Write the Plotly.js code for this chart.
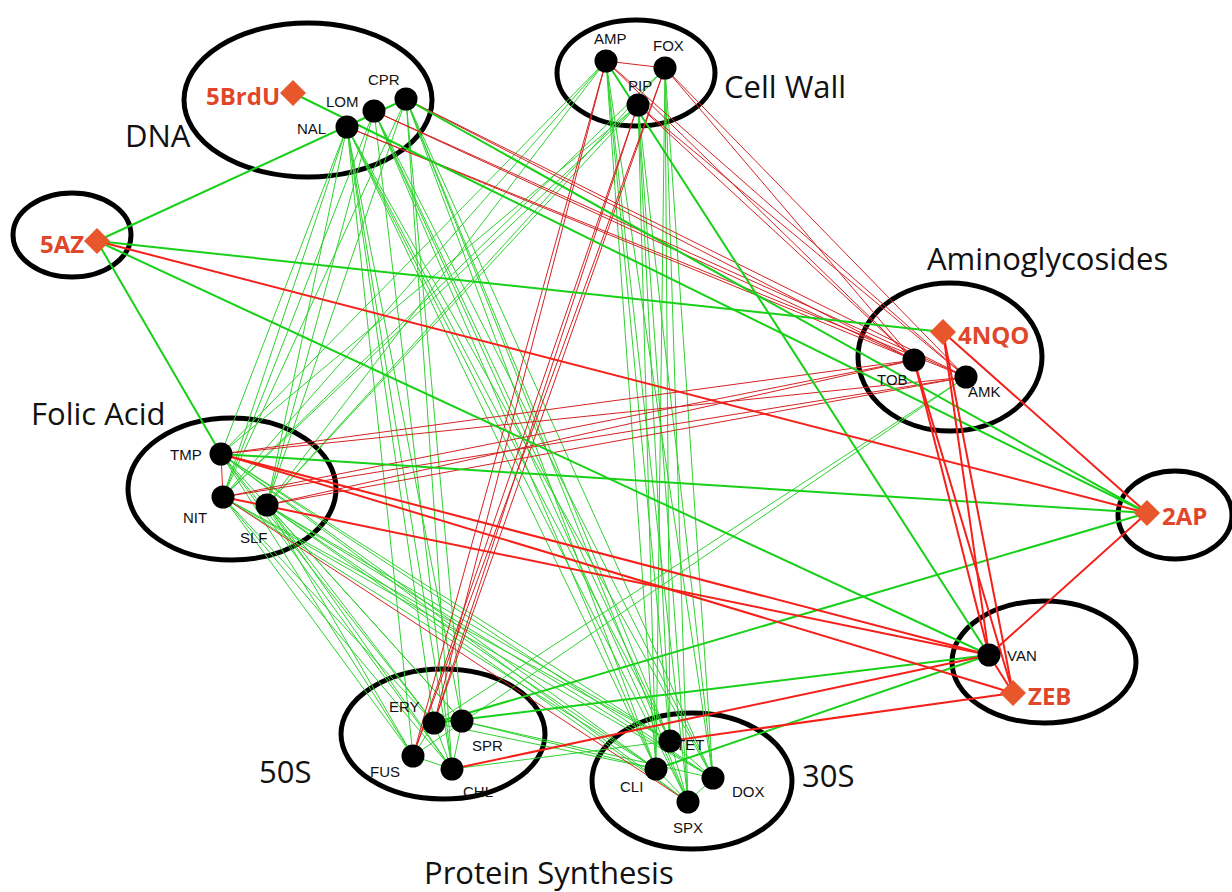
<!DOCTYPE html>
<html>
<head>
<meta charset="utf-8">
<script src="https://cdn.plot.ly/plotly-3.0.1.min.js"></script>
<style>html,body{margin:0;padding:0;background:#fff;}#chart{width:1232px;height:892px;}</style>
</head>
<body>
<div id="chart"></div>
<script>
// ---- Data ----
var drugNames = ["AMP","FOX","PIP","CPR","LOM","NAL","TOB","AMK","TMP","NIT","SLF","ERY","SPR","FUS","CHL","TET","CLI","DOX","SPX","VAN"];
var drugX     = [606, 665, 638, 406, 374, 347, 914, 966, 221, 223, 267, 434, 462, 413, 452, 670, 656, 713, 688, 989];
var drugY     = [ 61,  68, 105,  99, 111, 127, 360, 377, 454, 497, 505, 723, 721, 756, 769, 741, 769, 778, 802, 655];

var stressNames = ["5BrdU","5AZ","4NQO","2AP","ZEB"];
var stressX     = [293,  97, 943, 1147, 1013];
var stressY     = [ 93, 241, 332,  513,  693];

var groupNames = ["DNA","Cell Wall","Aminoglycosides","Folic Acid","50S","30S","Protein Synthesis"];

// group ellipses: center x, center y, radius x, radius y
var ellCX = [308, 636,  72, 950, 232, 1175, 1044, 443, 692];
var ellCY = [100,  73, 235, 357, 489,  515,  662, 734, 781];
var ellRX = [124,  79,  59,  92, 104,   57,   92, 102, 100];
var ellRY = [ 77,  53,  42,  74,  71,   44,   61,  65,  68];

// interactions
var thinGreen = [
 ["NAL","ERY"],["NAL","FUS"],["NAL","CHL"],["NAL","SPR"],["NAL","TET"],["NAL","CLI"],["NAL","SPX"],["NAL","DOX"],
 ["LOM","TET"],["LOM","CLI"],["LOM","SPX"],["LOM","DOX"],["LOM","CHL"],
 ["CPR","TET"],["CPR","CLI"],["CPR","SPX"],["CPR","DOX"],["CPR","CHL"],["CPR","SPR"],
 ["NAL","NIT"],["NAL","SLF"],["NAL","TMP"],["LOM","NIT"],["LOM","SLF"],["CPR","NIT"],["CPR","SLF"],
 ["AMP","TMP"],["AMP","NIT"],["AMP","SLF"],["PIP","TMP"],["PIP","NIT"],["PIP","SLF"],["FOX","NIT"],["FOX","SLF"],
 ["AMP","TET"],["AMP","CLI"],["AMP","SPX"],["AMP","DOX"],["FOX","TET"],["FOX","CLI"],["FOX","SPX"],["FOX","DOX"],
 ["PIP","TET"],["PIP","CLI"],["PIP","SPX"],["PIP","DOX"],
 ["TMP","ERY"],["TMP","FUS"],["TMP","CHL"],["TMP","SPR"],["NIT","ERY"],["NIT","FUS"],["NIT","CHL"],
 ["SLF","ERY"],["SLF","FUS"],["SLF","CHL"],["SLF","SPR"],
 ["TMP","TET"],["TMP","CLI"],["TMP","SPX"],["TMP","DOX"],["NIT","TET"],["NIT","CLI"],["NIT","DOX"],
 ["SLF","TET"],["SLF","CLI"],["SLF","SPX"],["SLF","DOX"],
 ["AMK","ERY"],["AMK","FUS"],
 ["SPR","CLI"],["CHL","TET"],["ERY","CLI"],["SPR","DOX"],
 ["ERY","FUS"],["ERY","CHL"],["SPR","CHL"],["FUS","CHL"],
 ["TET","SPX"],["CLI","SPX"],["TET","DOX"],["DOX","SPX"]
];
var thinRed = [
 ["AMP","TOB"],["AMP","AMK"],["FOX","TOB"],["FOX","AMK"],["PIP","TOB"],["PIP","AMK"],
 ["NAL","TOB"],["NAL","AMK"],["LOM","TOB"],["LOM","AMK"],["CPR","TOB"],["CPR","AMK"],
 ["TMP","TOB"],["TMP","AMK"],["NIT","TOB"],["NIT","AMK"],["SLF","TOB"],["SLF","AMK"],
 ["AMP","ERY"],["AMP","FUS"],["FOX","ERY"],["FOX","FUS"],["PIP","ERY"],["PIP","FUS"],
 ["TMP","NIT"],["NIT","SPX"],["AMP","FOX"]
];
var thickGreen = [
 ["5AZ","CPR"],["5AZ","4NQO"],["5AZ","VAN"],["5AZ","TMP"],
 ["5BrdU","2AP"],["CPR","2AP"],["TMP","2AP"],
 ["ERY","2AP"],["ERY","VAN"],["CLI","VAN"],["AMP","VAN"]
];
var thickRed = [
 ["5AZ","2AP"],["4NQO","2AP"],["2AP","VAN"],
 ["4NQO","VAN"],["4NQO","ZEB"],["TOB","VAN"],["TOB","ZEB"],
 ["TMP","VAN"],["TMP","ZEB"],["NIT","VAN"],
 ["CHL","VAN"],["TET","ZEB"],["VAN","ZEB"]
];

// ---- Build ----
var pos = {};
drugNames.forEach(function(n,i){pos[n]=[drugX[i],drugY[i]];});
stressNames.forEach(function(n,i){pos[n]=[stressX[i],stressY[i]];});

function edgeTrace(list, color, width){
  var xs=[], ys=[];
  list.forEach(function(e){
    var a=pos[e[0]], b=pos[e[1]];
    xs.push(a[0],b[0],null); ys.push(a[1],b[1],null);
  });
  return {type:'scatter', mode:'lines', x:xs, y:ys, hoverinfo:'skip',
          line:{color:color, width:width}, showlegend:false};
}

var drugLabelDX = [4,3,2,-22,-32,-36,-22,18,-35,-28,-13,-30,25,-28,26,20,-25,35,0,0];
var drugLabelDY = [-23,-23,-20,-20,-10,1,19,14,0,20,32,-17,24,15,22,3,17,13,25,0];

var traces = [
  edgeTrace(thinGreen, '#2fd12f', 1),
  edgeTrace(thinRed, '#d42222', 1),
  edgeTrace(thickGreen, '#18d018', 2),
  edgeTrace(thickRed, '#f5201a', 2),
  {type:'scatter', mode:'markers', x:drugX, y:drugY, hoverinfo:'text', text:drugNames,
   marker:{color:'#000', size:23, line:{width:0}}, showlegend:false},
  {type:'scatter', mode:'markers', x:stressX, y:stressY, hoverinfo:'text', text:stressNames,
   marker:{color:'#e8572b', symbol:'diamond', size:20, line:{width:0}}, showlegend:false}
];

var annotations = [];
drugNames.forEach(function(n,i){
  var isVan = (n==="VAN");
  annotations.push({x:drugX[i]+(isVan?16:drugLabelDX[i]), y:drugY[i]+drugLabelDY[i], text:n,
    showarrow:false, xanchor:isVan?'left':'center', yanchor:'middle',
    font:{family:'Liberation Sans, Arial', size:15, color:'#111'}});
});
var stressLabelSide = ['right','right','left','left','left'];
stressNames.forEach(function(n,i){
  var left = stressLabelSide[i]==='left';
  annotations.push({x:stressX[i]+(left?13:-11), y:stressY[i]+2, text:'<b>'+n+'</b>',
    showarrow:false, xanchor:left?'left':'right', yanchor:'middle',
    font:{family:'Open Sans', size:24, color:'#e0472a'}});
});
var groupLabelX = [158, 785, 1047, 98, 285, 828, 549];
var groupLabelY = [135,  86,  258, 413, 771, 775, 872];
groupNames.forEach(function(n,i){
  annotations.push({x:groupLabelX[i], y:groupLabelY[i], text:n, showarrow:false,
    xanchor:'center', yanchor:'middle',
    font:{family:'Open Sans', size:31, color:'#111'}});
});

var shapes = [];
for (var k=0;k<ellCX.length;k++){
  shapes.push({type:'circle', xref:'x', yref:'y', layer:'below',
    x0:ellCX[k]-ellRX[k], x1:ellCX[k]+ellRX[k], y0:ellCY[k]-ellRY[k], y1:ellCY[k]+ellRY[k],
    line:{color:'#000', width:5}, fillcolor:'rgba(0,0,0,0)'});
}

var layout = {
  width:1232, height:892, margin:{l:0,r:0,t:0,b:0},
  paper_bgcolor:'#fff', plot_bgcolor:'#fff',
  xaxis:{range:[0,1232], visible:false, fixedrange:true},
  yaxis:{range:[892,0], visible:false, fixedrange:true},
  shapes:shapes, annotations:annotations, showlegend:false
};
Plotly.newPlot('chart', traces, layout, {displayModeBar:false, staticPlot:true});
</script>
</body>
</html>
